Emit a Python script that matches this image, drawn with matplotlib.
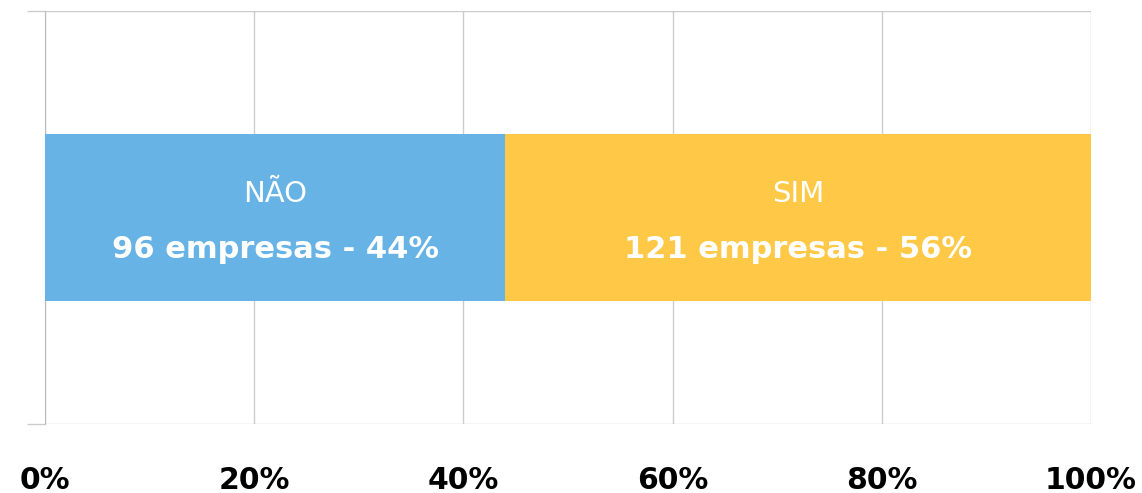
import matplotlib
matplotlib.use("Agg")
import matplotlib.pyplot as plt
from matplotlib.ticker import FuncFormatter

categories = ["NÃO", "SIM"]
companies = [96, 121]
percents = [44, 56]
colors = ["#67B3E5", "#FFC947"]
xticks = [0, 20, 40, 60, 80, 100]

fig = plt.figure(figsize=(11.42, 4.93), dpi=100)
ax = fig.add_axes([45/1142, 1-424/493, (1091-45)/1142, 413/493])

left = 0
for cat, n, p, c in zip(categories, companies, percents, colors):
    ax.barh(0.5, p, left=left, height=0.404, color=c, zorder=3)
    cx = left + p/2
    ax.text(cx, 0.5 + 0.056, cat, ha="center", va="center", color="white",
            fontsize=21, family="DejaVu Sans", zorder=4)
    ax.text(cx, 0.5 - 0.078, f"{n} empresas - {p}%", ha="center", va="center",
            color="white", fontsize=22, fontweight="bold", family="DejaVu Sans", zorder=4)
    left += p

ax.set_xlim(0, 100)
ax.set_ylim(0, 1)
ax.set_xticks(xticks)
ax.xaxis.set_major_formatter(FuncFormatter(lambda v, pos: f"{int(v)}%"))
for lab in ax.get_xticklabels():
    lab.set_fontsize(21.5)
    lab.set_fontweight("bold")
    lab.set_family("DejaVu Sans")
ax.tick_params(axis="x", length=0, pad=30)
ax.set_yticks([0, 1])
ax.set_yticklabels([])
ax.tick_params(axis="y", length=13, color="#CCCCCC", width=1)
ax.grid(True, axis="both", color="#CCCCCC", lw=1, zorder=0)
for s in ax.spines.values():
    s.set_visible(False)
ax.spines["left"].set_visible(True)
ax.spines["left"].set_color("#BBBBBB")

fig.savefig("out.png", dpi=100)
